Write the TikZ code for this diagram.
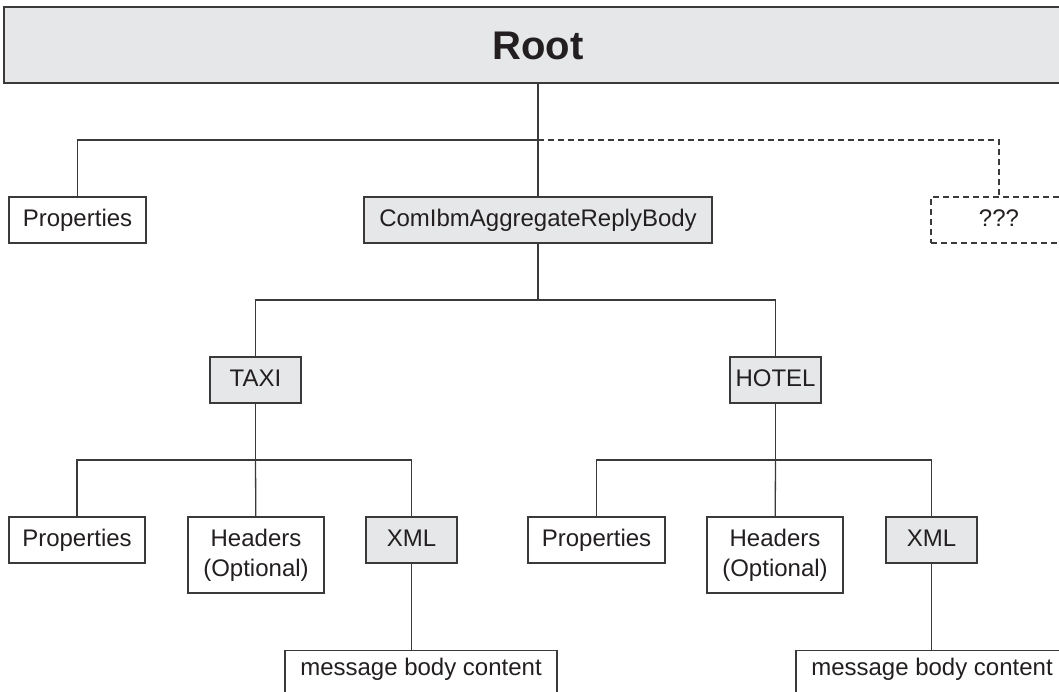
\documentclass[tikz,border=0pt]{standalone}
\usepackage{fontspec}
\setmainfont{Liberation Sans}
\definecolor{boxgrey}{HTML}{E6E7E8}
\definecolor{linegrey}{HTML}{3A3A3A}
\definecolor{inkgrey}{HTML}{231F20}
\begin{document}
\begin{tikzpicture}[x=1pt,y=-1pt,line join=miter,
  every node/.style={font=\fontsize{24}{30}\selectfont,text=inkgrey,align=center},
  leaf/.style={draw=linegrey,line width=1.3pt,fill=white,inner sep=0pt,
    text height=17.5pt,text depth=5pt,minimum height=46pt},
  shaded/.style={leaf,fill=boxgrey},
  guess/.style={dash pattern=on 6pt off 4pt},
  link/.style={draw=linegrey,line width=1.3pt}]
\useasboundingbox (0,0) rectangle (1059,691);
\clip (0,0) rectangle (1059,691);

% root and first level
\node[shaded,minimum width=1068pt,minimum height=76pt,text height=29pt,text depth=0pt,
  font=\fontsize{40}{48}\selectfont\bfseries] (root) at (538,45) {Root};
\node[leaf,minimum width=137pt] (props) at (77.5,220) {Properties};
\node[shaded,minimum width=348pt] (body) at (538,220) {ComIbmAggregateReplyBody};
\node[leaf,guess,minimum width=136pt] (unknown) at (999,220) {???};
\coordinate (rootsplit) at (538,140);

\draw[link] (root) -- (body);
\draw[link] (rootsplit) -| (props);
\draw[link,guess] (rootsplit) -| (unknown);

% aggregated replies
\node[shaded,minimum width=91pt] (taxi) at (255.5,380) {TAXI};
\node[shaded,minimum width=91pt] (hotel) at (775.5,380) {HOTEL};
\coordinate (bodysplit) at (538,300);

\draw[link] (body) -- (bodysplit) -| (taxi);
\draw[link] (bodysplit) -| (hotel);

% TAXI tree
\node[leaf,minimum width=136pt] (taxiprops) at (77,540) {Properties};
\node[leaf,minimum width=136pt,minimum height=76pt,text height=47.5pt] (taxiheaders) at (256,555) {Headers\\(Optional)};
\node[shaded,minimum width=91pt] (taxixml) at (411.5,540) {XML};
\node[leaf,anchor=north,minimum width=272pt,minimum height=0pt,text height=25pt,text depth=40pt]
  (taximsg) at (421,650) {message body content};
\coordinate (taxisplit) at (255.5,460);

\draw[link] (taxi) -- (taxisplit) -| (taxiprops);
\draw[link] (taxisplit) -- (taxiheaders);
\draw[link] (taxisplit) -| (taxixml);
\draw[link] (taxixml) -- (taxixml |- taximsg.north);

% HOTEL tree
\node[leaf,minimum width=137pt] (hotelprops) at (596.5,540) {Properties};
\node[leaf,minimum width=136pt,minimum height=76pt,text height=47.5pt] (hotelheaders) at (775,555) {Headers\\(Optional)};
\node[shaded,minimum width=91pt] (hotelxml) at (931.5,540) {XML};
\node[leaf,anchor=north,minimum width=272pt,minimum height=0pt,text height=25pt,text depth=40pt]
  (hotelmsg) at (932,650) {message body content};
\coordinate (hotelsplit) at (775.5,460);

\draw[link] (hotel) -- (hotelsplit) -| (hotelprops);
\draw[link] (hotelsplit) -- (hotelheaders);
\draw[link] (hotelsplit) -| (hotelxml);
\draw[link] (hotelxml) -- (hotelxml |- hotelmsg.north);
\end{tikzpicture}
\end{document}
